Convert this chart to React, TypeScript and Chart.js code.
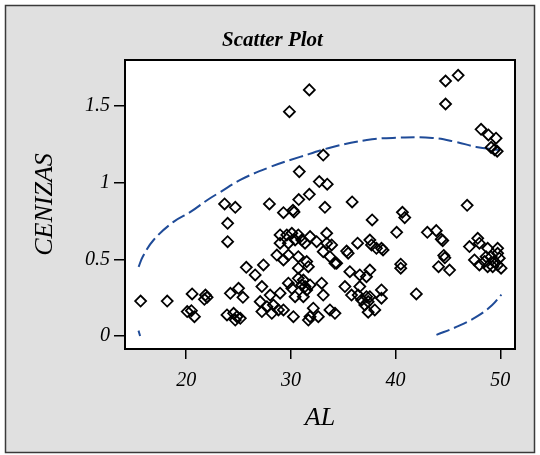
import React, { useEffect, useRef } from "react";
import { Chart, registerables } from "chart.js";

Chart.register(...registerables);

const alValues: number[] = [
  31.76, 29.86, 44.77, 45.97, 44.77, 48.16, 48.86, 49.59, 49.12, 49.45, 49.7,
  33.09, 30.8, 32.71, 33.47, 31.76, 30.75, 33.25, 35.85, 46.83, 40.65, 40.87, 37.76,
  40.1, 43.03, 43.88, 44.36, 44.5, 23.67, 24.69, 27.95, 23.96, 23.96, 29.29, 30.2, 30.3,
  25.74, 26.59,
  28.97, 29.61, 30.09, 30.71, 30.4, 31.04, 31.83, 32.46, 33.42, 33.42, 33.89, 33.09, 33.73, 34.21, 28.97, 29.76, 31.35,
  28.66, 29.29, 29.76, 30.71, 31.51, 31.67, 27.38, 30.71,
  30.71, 31.19, 31.04, 31.35, 31.51, 31.83, 32.94, 33.09, 29.76, 30.09, 30.4, 31.19, 28.97, 28.02, 27.23,
  27.07, 27.71, 28.33, 28.81, 29.29, 27.23, 28.18, 30.24, 32.14, 31.83, 32.62, 33.73, 31.67,
  36.37, 35.32, 35.47, 37.54, 37.7, 38.17, 38.65, 38.8, 34.37, 40.49, 40.49, 35.63, 36.58, 37.22, 37.54,
  35.16, 35.79, 36.58, 36.42, 36.75, 37.22, 37.38, 37.54, 37.06, 38.65, 38.65, 37.38, 38.01, 41.98, 34.21,
  44.6, 44.7, 44.1, 45.15,
  47.05, 47.84, 48.0, 48.79, 49.74, 49.74, 47.53, 48.0, 48.64, 49.12, 49.43, 49.74, 49.9, 48.79, 49.27, 50.07, 48.48,
  15.65, 18.19, 20.57, 21.84, 22.0, 21.74, 20.1, 20.5, 20.79,
  24.22, 25.0, 25.42, 23.9, 24.53, 24.85, 25.17, 24.69,
];

const cenizasValues: number[] = [
  1.605, 1.463, 1.663, 1.7, 1.513, 1.348, 1.311, 1.29, 1.23, 1.215, 1.205,
  1.18, 1.072, 1.007, 0.99, 0.924, 0.89, 0.839, 0.874, 0.852, 0.807, 0.772, 0.757,
  0.676, 0.676, 0.687, 0.631, 0.622, 0.861, 0.839, 0.861, 0.735, 0.615, 0.804, 0.82, 0.808,
  0.448, 0.398,
  0.659, 0.659, 0.67, 0.659, 0.626, 0.626, 0.648, 0.615, 0.67, 0.605, 0.594, 0.55, 0.517, 0.474, 0.605, 0.605, 0.605,
  0.528, 0.496, 0.528, 0.517, 0.485, 0.452, 0.463, 0.442,
  0.376, 0.365, 0.333, 0.322, 0.3, 0.333, 0.344, 0.267, 0.344, 0.311, 0.256, 0.256, 0.279, 0.267, 0.322,
  0.224, 0.191, 0.202, 0.17, 0.17, 0.159, 0.148, 0.126, 0.181, 0.126, 0.126, 0.17, 0.104,
  0.605, 0.554, 0.54, 0.626, 0.594, 0.572, 0.572, 0.561, 0.474, 0.468, 0.442, 0.419, 0.398, 0.387, 0.43,
  0.322, 0.267, 0.322, 0.267, 0.235, 0.256, 0.224, 0.256, 0.202, 0.3, 0.246, 0.155, 0.17, 0.274, 0.148,
  0.525, 0.51, 0.452, 0.43,
  0.583, 0.637, 0.605, 0.572, 0.572, 0.539, 0.496, 0.463, 0.517, 0.517, 0.485, 0.463, 0.507, 0.452, 0.452, 0.442, 0.485,
  0.228, 0.228, 0.274, 0.267, 0.252, 0.239, 0.159, 0.165, 0.126,
  0.278, 0.311, 0.252, 0.137, 0.148, 0.126, 0.115, 0.104,
];

const upperBandAL: number[] = [15.46, 15.84, 16.89, 18.79, 20.41, 22.03, 23.26, 25.17, 28.02, 30.88, 34.0, 37.25, 39.72, 43.5, 45.8, 47.7, 49.9];
const upperBandCen: number[] = [0.45, 0.515, 0.626, 0.744, 0.809, 0.887, 0.939, 1.018, 1.102, 1.168, 1.233, 1.278, 1.292, 1.292, 1.265, 1.233, 1.213];
const lowerBandAL: number[] = [43.9, 45.8, 47.7, 49.2, 50.1];
const lowerBandCen: number[] = [0.007, 0.059, 0.124, 0.2, 0.27];
const lowerLeftAL: number[] = [15.45, 15.6];
const lowerLeftCen: number[] = [0.035, 0.0];

const xTicks: number[] = [20, 30, 40, 50];
const yTicks: number[] = [0, 0.5, 1, 1.5];

const toPts = (xs: number[], ys: number[]) => xs.map((x, i) => ({ x, y: ys[i] }));

const SERIF = "'Liberation Serif', 'Times New Roman', serif";
const BAND_COLOR = "#1f4b98";

export default function App() {
  const ref = useRef<HTMLCanvasElement | null>(null);

  useEffect(() => {
    if (!ref.current) return;
    const framePlugin = {
      id: "frame",
      beforeDraw(chart: any) {
        const { ctx, chartArea } = chart;
        ctx.save();
        ctx.fillStyle = "#ffffff";
        ctx.fillRect(0, 0, chart.width, chart.height);
        ctx.fillStyle = "#e0e0e0";
        ctx.fillRect(5, 5, 530, 448);
        ctx.strokeStyle = "#3a3a3a";
        ctx.lineWidth = 1.5;
        ctx.strokeRect(5.5, 5.5, 529, 447);
        ctx.fillStyle = "#ffffff";
        ctx.fillRect(chartArea.left, chartArea.top, chartArea.right - chartArea.left, chartArea.bottom - chartArea.top);
        ctx.restore();
      },
      afterDraw(chart: any) {
        const { ctx, chartArea } = chart;
        ctx.save();
        ctx.strokeStyle = "#000000";
        ctx.lineWidth = 2;
        ctx.strokeRect(chartArea.left, chartArea.top, chartArea.right - chartArea.left, chartArea.bottom - chartArea.top);
        ctx.restore();
      },
    };

    const bandStyle = {
      type: "line" as const,
      showLine: true,
      pointRadius: 0,
      borderColor: BAND_COLOR,
      borderWidth: 2,
      borderDash: [14, 5],
      tension: 0.4,
      fill: false,
    };

    const chart = new Chart(ref.current, {
      type: "scatter",
      data: {
        datasets: [
          {
            label: "CENIZAS",
            data: toPts(alValues, cenizasValues),
            pointStyle: "rectRot",
            pointRadius: 5.5,
            borderColor: "#000000",
            backgroundColor: "rgba(0,0,0,0)",
            borderWidth: 1.8,
          } as any,
          { ...bandStyle, label: "upper", data: toPts(upperBandAL, upperBandCen) } as any,
          { ...bandStyle, label: "lower", data: toPts(lowerBandAL, lowerBandCen) } as any,
          { ...bandStyle, label: "lowerLeft", data: toPts(lowerLeftAL, lowerLeftCen) } as any,
        ],
      },
      options: {
        animation: false,
        responsive: false,
        maintainAspectRatio: false,
        layout: { padding: { left: 30, top: 0, right: 25, bottom: 0 } },
        plugins: {
          legend: { display: false },
          tooltip: { enabled: false },
          title: {
            display: true,
            text: "Scatter Plot",
            color: "#000000",
            font: { family: SERIF, size: 21, style: "italic", weight: "bold", lineHeight: 1.2 },
            padding: { top: 28, bottom: 6.8 },
          },
        },
        scales: {
          x: {
            type: "linear",
            min: 14.16,
            max: 51.4,
            afterBuildTicks: (scale: any) => {
              scale.ticks = xTicks.map((v) => ({ value: v }));
            },
            afterFit: (scale: any) => {
              scale.height = 106;
            },
            ticks: {
              color: "#000000",
              font: { family: SERIF, size: 20, style: "italic" },
              padding: 10,
              maxRotation: 0,
              callback: (v: any) => String(v),
            },
            grid: { drawOnChartArea: false, drawTicks: true, tickLength: 10, color: "#000000", lineWidth: 1.5 },
            border: { display: false },
            title: {
              display: true,
              text: "AL",
              color: "#000000",
              font: { family: SERIF, size: 26, style: "italic", lineHeight: 1.2 },
              padding: { top: 0, bottom: 21 },
            },
          },
          y: {
            type: "linear",
            min: -0.085,
            max: 1.8,
            afterBuildTicks: (scale: any) => {
              scale.ticks = yTicks.map((v) => ({ value: v }));
            },
            afterFit: (scale: any) => {
              scale.width = 95;
            },
            ticks: {
              color: "#000000",
              font: { family: SERIF, size: 20, style: "italic" },
              padding: 4,
              callback: (v: any) => String(v),
            },
            grid: { drawOnChartArea: false, drawTicks: true, tickLength: 11, color: "#000000", lineWidth: 1.5 },
            border: { display: false },
            title: {
              display: true,
              text: "CENIZAS",
              color: "#000000",
              font: { family: SERIF, size: 26, style: "italic", lineHeight: 1.2 },
              padding: { top: 0, bottom: 0 },
            },
          },
        },
      },
      plugins: [framePlugin],
    });
    return () => chart.destroy();
  }, []);

  return (
    <div style={{ position: "fixed", left: 0, top: 0, width: 540, height: 455 }}>
      <canvas ref={ref} width={540} height={455} style={{ display: "block", width: 540, height: 455 }} />
    </div>
  );
}
